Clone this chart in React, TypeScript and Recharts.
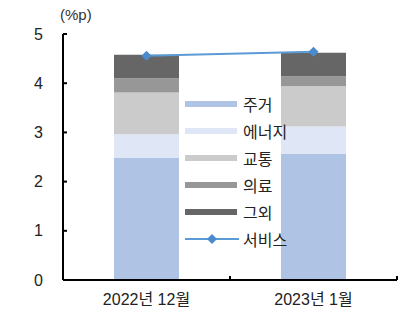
import React from 'react';
import { ComposedChart, Bar, Line, XAxis, YAxis } from 'recharts';

const categories = ['2022년 12월', '2023년 1월'];
const housing = [2.48, 2.56];
const energy = [0.48, 0.56];
const transport = [0.85, 0.82];
const medical = [0.29, 0.2];
const other = [0.48, 0.48];
const services = [4.56, 4.64];
const yTicks = [0, 1, 2, 3, 4, 5];

const FONT = '"Liberation Sans", Arial, "Noto Sans CJK KR", sans-serif';

const series = [
  { key: 'housing', name: '주거', color: '#AFC3E4' },
  { key: 'energy', name: '에너지', color: '#DFE7F6' },
  { key: 'transport', name: '교통', color: '#CBCBCB' },
  { key: 'medical', name: '의료', color: '#979797' },
  { key: 'other', name: '그외', color: '#666666' },
];
const LINE_COLOR = '#5B9BD5';
const DOT_COLOR = '#4A8BCF';
const X_TICK_MARGIN = 12;

const data = categories.map((name, i) => ({
  name,
  housing: housing[i],
  energy: energy[i],
  transport: transport[i],
  medical: medical[i],
  other: other[i],
  services: services[i],
}));

const Diamond = (props: any) => {
  const { cx, cy } = props;
  if (cx == null || cy == null) return null;
  const r = 5;
  return (
    <path
      d={`M${cx},${cy - r} L${cx + r},${cy} L${cx},${cy + r} L${cx - r},${cy} Z`}
      fill={DOT_COLOR}
      stroke="none"
    />
  );
};

// category label plus inward tick marks on the band edges
const MonthTick = (props: any) => {
  const { x, y, payload, index, visibleTicksCount } = props;
  const half = payload?.offset ?? 0;
  const axisY = y - X_TICK_MARGIN;
  const edges = [x - half];
  if (index === visibleTicksCount - 1) edges.push(x + half);
  return (
    <g>
      {edges.map((ex, i) => (
        <line key={i} x1={ex} x2={ex} y1={axisY} y2={axisY - 4} stroke="#000" strokeWidth={2} />
      ))}
      <text x={x} y={y} dy="0.8em" textAnchor="middle" fill="#222" fontSize={16} fontFamily={FONT}>
        {payload.value}
      </text>
    </g>
  );
};

const LegendBox = () => (
  <div style={{ position: 'absolute', left: 185, top: 90, fontFamily: FONT }}>
    {series.map((s) => (
      <div key={s.key} style={{ display: 'flex', alignItems: 'center', height: 27 }}>
        <div style={{ width: 52, height: 6, background: s.color }} />
        <span style={{ marginLeft: 6, fontSize: 16, color: '#222' }}>{s.name}</span>
      </div>
    ))}
    <div style={{ display: 'flex', alignItems: 'center', height: 27 }}>
      <svg width={54} height={12}>
        <line x1={0} y1={6} x2={54} y2={6} stroke={LINE_COLOR} strokeWidth={2} />
        <path d="M27,1 L32,6 L27,11 L22,6 Z" fill={DOT_COLOR} />
      </svg>
      <span style={{ marginLeft: 4, fontSize: 16, color: '#222' }}>서비스</span>
    </div>
  </div>
);

export default function App() {
  return (
    <div style={{ position: 'absolute', left: 0, top: 0, width: 414, height: 320, background: '#fff' }}>
      <div style={{ position: 'absolute', left: 60, top: 6, fontSize: 15, fontFamily: FONT, color: '#333' }}>
        (%p)
      </div>
      <ComposedChart
        width={414}
        height={320}
        data={data}
        margin={{ top: 34, right: 17, bottom: 0, left: 0 }}
      >
        <XAxis
          dataKey="name"
          height={40}
          axisLine={{ stroke: '#000', strokeWidth: 2 }}
          tickLine={false}
          tickSize={0}
          tickMargin={X_TICK_MARGIN}
          tick={<MonthTick />}
        />
        <YAxis
          width={63}
          domain={[0, 5]}
          ticks={yTicks}
          tickSize={-4}
          tickMargin={24}
          axisLine={{ stroke: '#000', strokeWidth: 2 }}
          tickLine={{ stroke: '#000', strokeWidth: 2 }}
          tick={{ fill: '#222', fontSize: 16, fontFamily: FONT }}
        />
        {series.map((s) => (
          <Bar
            key={s.key}
            dataKey={s.key}
            name={s.name}
            stackId="a"
            fill={s.color}
            barSize={65}
            isAnimationActive={false}
          />
        ))}
        <Line
          dataKey="services"
          name="서비스"
          stroke={LINE_COLOR}
          strokeWidth={2}
          dot={<Diamond />}
          activeDot={false}
          isAnimationActive={false}
        />
      </ComposedChart>
      <LegendBox />
    </div>
  );
}
